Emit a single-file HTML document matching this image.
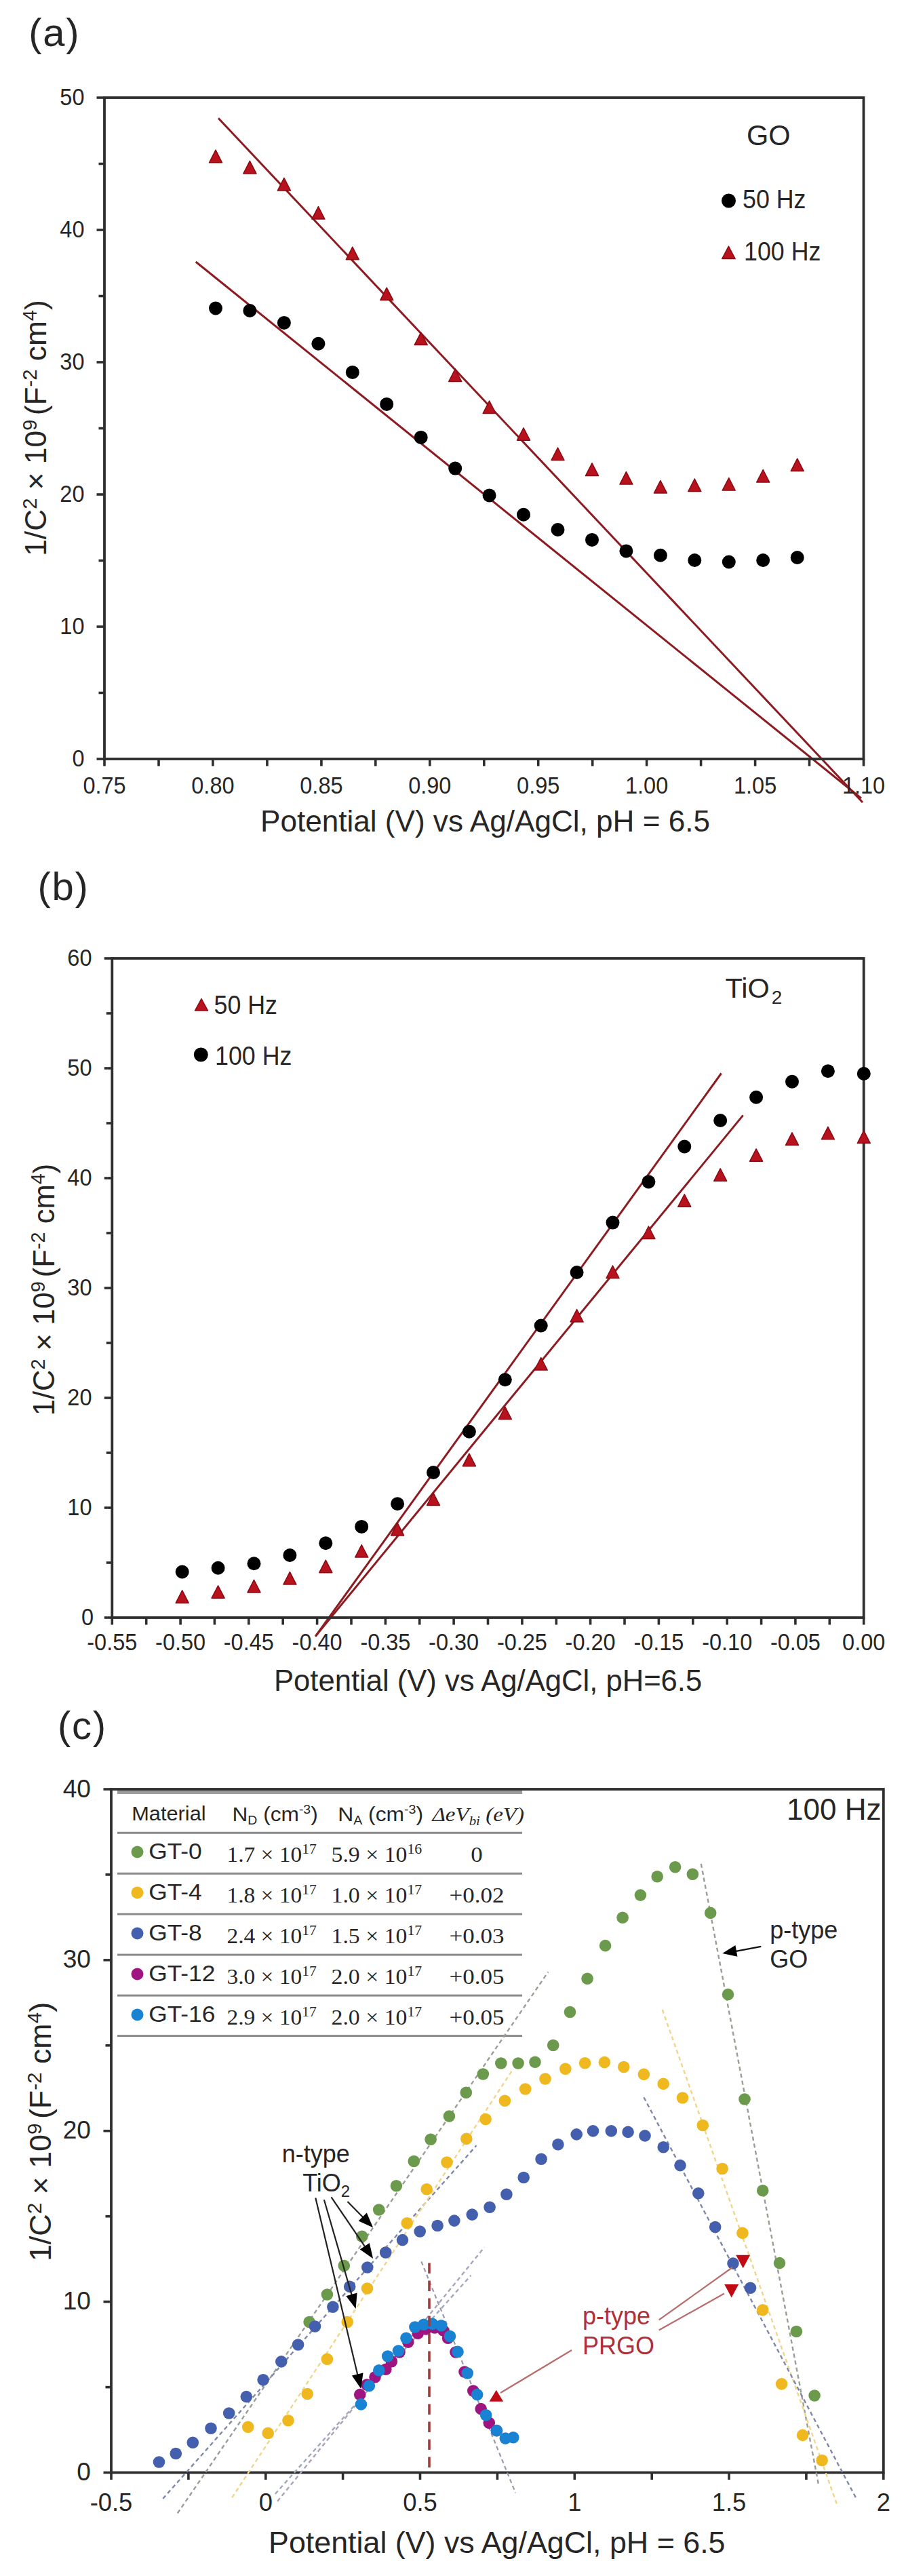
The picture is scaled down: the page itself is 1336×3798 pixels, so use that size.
<!DOCTYPE html>
<html><head><meta charset="utf-8"><style>
html,body{margin:0;padding:0;background:#fff;}
svg{display:block;}
</style></head><body>
<svg width="1336" height="3798" viewBox="0 0 1336 3798">
<rect width="1336" height="3798" fill="#fff"/>
<line x1="322.0" y1="174.3" x2="1272.0" y2="1183.0" stroke="#8c1c22" stroke-width="3" />
<line x1="288.7" y1="386.0" x2="1270.0" y2="1177.0" stroke="#8c1c22" stroke-width="3" />
<rect x="154" y="144" width="1119.5" height="975" fill="none" stroke="#2e2e2e" stroke-width="3.8"/>
<line x1="142.5" y1="1119.0" x2="154.0" y2="1119.0" stroke="#2e2e2e" stroke-width="3.6" />
<text transform="translate(124.5 1130.0) scale(1.0 1.06)" font-size="32.5" text-anchor="end" fill="#262626" font-family="'Liberation Sans', sans-serif" >0</text>
<line x1="145.5" y1="1021.5" x2="154.0" y2="1021.5" stroke="#2e2e2e" stroke-width="3.6" />
<line x1="142.5" y1="924.0" x2="154.0" y2="924.0" stroke="#2e2e2e" stroke-width="3.6" />
<text transform="translate(124.5 935.0) scale(1.0 1.06)" font-size="32.5" text-anchor="end" fill="#262626" font-family="'Liberation Sans', sans-serif" >10</text>
<line x1="145.5" y1="826.5" x2="154.0" y2="826.5" stroke="#2e2e2e" stroke-width="3.6" />
<line x1="142.5" y1="729.0" x2="154.0" y2="729.0" stroke="#2e2e2e" stroke-width="3.6" />
<text transform="translate(124.5 740.0) scale(1.0 1.06)" font-size="32.5" text-anchor="end" fill="#262626" font-family="'Liberation Sans', sans-serif" >20</text>
<line x1="145.5" y1="631.5" x2="154.0" y2="631.5" stroke="#2e2e2e" stroke-width="3.6" />
<line x1="142.5" y1="534.0" x2="154.0" y2="534.0" stroke="#2e2e2e" stroke-width="3.6" />
<text transform="translate(124.5 545.0) scale(1.0 1.06)" font-size="32.5" text-anchor="end" fill="#262626" font-family="'Liberation Sans', sans-serif" >30</text>
<line x1="145.5" y1="436.5" x2="154.0" y2="436.5" stroke="#2e2e2e" stroke-width="3.6" />
<line x1="142.5" y1="339.0" x2="154.0" y2="339.0" stroke="#2e2e2e" stroke-width="3.6" />
<text transform="translate(124.5 350.0) scale(1.0 1.06)" font-size="32.5" text-anchor="end" fill="#262626" font-family="'Liberation Sans', sans-serif" >40</text>
<line x1="145.5" y1="241.5" x2="154.0" y2="241.5" stroke="#2e2e2e" stroke-width="3.6" />
<line x1="142.5" y1="144.0" x2="154.0" y2="144.0" stroke="#2e2e2e" stroke-width="3.6" />
<text transform="translate(124.5 155.0) scale(1.0 1.06)" font-size="32.5" text-anchor="end" fill="#262626" font-family="'Liberation Sans', sans-serif" >50</text>
<line x1="154.0" y1="1119.0" x2="154.0" y2="1129.5" stroke="#2e2e2e" stroke-width="3.6" />
<text transform="translate(154.0 1170.0) scale(1.0 1.06)" font-size="32.5" text-anchor="middle" fill="#262626" font-family="'Liberation Sans', sans-serif" >0.75</text>
<line x1="234.0" y1="1119.0" x2="234.0" y2="1129.5" stroke="#2e2e2e" stroke-width="3.6" />
<line x1="313.9" y1="1119.0" x2="313.9" y2="1129.5" stroke="#2e2e2e" stroke-width="3.6" />
<text transform="translate(313.9 1170.0) scale(1.0 1.06)" font-size="32.5" text-anchor="middle" fill="#262626" font-family="'Liberation Sans', sans-serif" >0.80</text>
<line x1="393.9" y1="1119.0" x2="393.9" y2="1129.5" stroke="#2e2e2e" stroke-width="3.6" />
<line x1="473.9" y1="1119.0" x2="473.9" y2="1129.5" stroke="#2e2e2e" stroke-width="3.6" />
<text transform="translate(473.9 1170.0) scale(1.0 1.06)" font-size="32.5" text-anchor="middle" fill="#262626" font-family="'Liberation Sans', sans-serif" >0.85</text>
<line x1="553.8" y1="1119.0" x2="553.8" y2="1129.5" stroke="#2e2e2e" stroke-width="3.6" />
<line x1="633.8" y1="1119.0" x2="633.8" y2="1129.5" stroke="#2e2e2e" stroke-width="3.6" />
<text transform="translate(633.8 1170.0) scale(1.0 1.06)" font-size="32.5" text-anchor="middle" fill="#262626" font-family="'Liberation Sans', sans-serif" >0.90</text>
<line x1="713.8" y1="1119.0" x2="713.8" y2="1129.5" stroke="#2e2e2e" stroke-width="3.6" />
<line x1="793.7" y1="1119.0" x2="793.7" y2="1129.5" stroke="#2e2e2e" stroke-width="3.6" />
<text transform="translate(793.7 1170.0) scale(1.0 1.06)" font-size="32.5" text-anchor="middle" fill="#262626" font-family="'Liberation Sans', sans-serif" >0.95</text>
<line x1="873.7" y1="1119.0" x2="873.7" y2="1129.5" stroke="#2e2e2e" stroke-width="3.6" />
<line x1="953.6" y1="1119.0" x2="953.6" y2="1129.5" stroke="#2e2e2e" stroke-width="3.6" />
<text transform="translate(953.6 1170.0) scale(1.0 1.06)" font-size="32.5" text-anchor="middle" fill="#262626" font-family="'Liberation Sans', sans-serif" >1.00</text>
<line x1="1033.6" y1="1119.0" x2="1033.6" y2="1129.5" stroke="#2e2e2e" stroke-width="3.6" />
<line x1="1113.6" y1="1119.0" x2="1113.6" y2="1129.5" stroke="#2e2e2e" stroke-width="3.6" />
<text transform="translate(1113.6 1170.0) scale(1.0 1.06)" font-size="32.5" text-anchor="middle" fill="#262626" font-family="'Liberation Sans', sans-serif" >1.05</text>
<line x1="1193.5" y1="1119.0" x2="1193.5" y2="1129.5" stroke="#2e2e2e" stroke-width="3.6" />
<line x1="1273.5" y1="1119.0" x2="1273.5" y2="1129.5" stroke="#2e2e2e" stroke-width="3.6" />
<text transform="translate(1273.5 1170.0) scale(1.0 1.06)" font-size="32.5" text-anchor="middle" fill="#262626" font-family="'Liberation Sans', sans-serif" >1.10</text>
<text x="384.0" y="1226.2" font-size="44.1" text-anchor="start" fill="#262626" font-family="'Liberation Sans', sans-serif" >Potential (V) vs Ag/AgCl, pH = 6.5</text>
<text x="67.7" y="631.0" font-size="44.3" text-anchor="middle" fill="#262626" font-family="'Liberation Sans', sans-serif" transform="rotate(-90 67.7 631.0)">1/C<tspan font-size="29.2" dy="-13.7">2</tspan><tspan dy="13.7"> × 10</tspan><tspan font-size="29.2" dy="-13.7">9</tspan><tspan dy="13.7" dx="-6"> (F</tspan><tspan font-size="29.2" dy="-13.7">-2</tspan><tspan dy="13.7"> cm</tspan><tspan font-size="29.2" dy="-13.7">4</tspan><tspan dy="13.7">)</tspan></text>
<circle cx="318.0" cy="454.5" r="10" fill="#000" />
<circle cx="368.4" cy="458.0" r="10" fill="#000" />
<circle cx="418.9" cy="475.9" r="10" fill="#000" />
<circle cx="469.4" cy="506.7" r="10" fill="#000" />
<circle cx="519.8" cy="548.9" r="10" fill="#000" />
<circle cx="570.2" cy="595.9" r="10" fill="#000" />
<circle cx="620.7" cy="644.9" r="10" fill="#000" />
<circle cx="671.2" cy="690.6" r="10" fill="#000" />
<circle cx="721.6" cy="730.4" r="10" fill="#000" />
<circle cx="772.0" cy="758.7" r="10" fill="#000" />
<circle cx="822.5" cy="781.0" r="10" fill="#000" />
<circle cx="873.0" cy="795.9" r="10" fill="#000" />
<circle cx="923.4" cy="812.4" r="10" fill="#000" />
<circle cx="973.9" cy="818.7" r="10" fill="#000" />
<circle cx="1024.3" cy="826.0" r="10" fill="#000" />
<circle cx="1074.8" cy="828.5" r="10" fill="#000" />
<circle cx="1125.2" cy="826.0" r="10" fill="#000" />
<circle cx="1175.7" cy="822.0" r="10" fill="#000" />
<polygon points="318.0,221.2 327.5,239.8 308.5,239.8" fill="#b8121e" stroke="#8a0a12" stroke-width="1.5" stroke-linejoin="round"/>
<polygon points="368.4,237.4 377.9,255.9 358.9,255.9" fill="#b8121e" stroke="#8a0a12" stroke-width="1.5" stroke-linejoin="round"/>
<polygon points="418.9,262.4 428.4,280.9 409.4,280.9" fill="#b8121e" stroke="#8a0a12" stroke-width="1.5" stroke-linejoin="round"/>
<polygon points="469.4,304.6 478.9,323.1 459.9,323.1" fill="#b8121e" stroke="#8a0a12" stroke-width="1.5" stroke-linejoin="round"/>
<polygon points="519.8,364.2 529.3,382.8 510.3,382.8" fill="#b8121e" stroke="#8a0a12" stroke-width="1.5" stroke-linejoin="round"/>
<polygon points="570.2,424.1 579.8,442.6 560.8,442.6" fill="#b8121e" stroke="#8a0a12" stroke-width="1.5" stroke-linejoin="round"/>
<polygon points="620.7,490.1 630.2,508.6 611.2,508.6" fill="#b8121e" stroke="#8a0a12" stroke-width="1.5" stroke-linejoin="round"/>
<polygon points="671.2,544.0 680.7,562.5 661.7,562.5" fill="#b8121e" stroke="#8a0a12" stroke-width="1.5" stroke-linejoin="round"/>
<polygon points="721.6,591.0 731.1,609.5 712.1,609.5" fill="#b8121e" stroke="#8a0a12" stroke-width="1.5" stroke-linejoin="round"/>
<polygon points="772.0,630.8 781.5,649.2 762.5,649.2" fill="#b8121e" stroke="#8a0a12" stroke-width="1.5" stroke-linejoin="round"/>
<polygon points="822.5,660.0 832.0,678.5 813.0,678.5" fill="#b8121e" stroke="#8a0a12" stroke-width="1.5" stroke-linejoin="round"/>
<polygon points="873.0,682.9 882.5,701.4 863.5,701.4" fill="#b8121e" stroke="#8a0a12" stroke-width="1.5" stroke-linejoin="round"/>
<polygon points="923.4,695.6 932.9,714.1 913.9,714.1" fill="#b8121e" stroke="#8a0a12" stroke-width="1.5" stroke-linejoin="round"/>
<polygon points="973.9,708.5 983.4,727.0 964.4,727.0" fill="#b8121e" stroke="#8a0a12" stroke-width="1.5" stroke-linejoin="round"/>
<polygon points="1024.3,706.0 1033.8,724.5 1014.8,724.5" fill="#b8121e" stroke="#8a0a12" stroke-width="1.5" stroke-linejoin="round"/>
<polygon points="1074.8,704.5 1084.2,723.0 1065.2,723.0" fill="#b8121e" stroke="#8a0a12" stroke-width="1.5" stroke-linejoin="round"/>
<polygon points="1125.2,692.5 1134.7,711.0 1115.7,711.0" fill="#b8121e" stroke="#8a0a12" stroke-width="1.5" stroke-linejoin="round"/>
<polygon points="1175.7,676.1 1185.2,694.6 1166.2,694.6" fill="#b8121e" stroke="#8a0a12" stroke-width="1.5" stroke-linejoin="round"/>
<text transform="translate(1101.0 214.0) scale(1.0 1.03)" font-size="41.5" text-anchor="start" fill="#262626" font-family="'Liberation Sans', sans-serif" >GO</text>
<circle cx="1074.5" cy="296.0" r="10.5" fill="#000" />
<text transform="translate(1095.0 307.3) scale(1.0 1.06)" font-size="35.8" text-anchor="start" fill="#262626" font-family="'Liberation Sans', sans-serif" >50 Hz</text>
<polygon points="1074.4,363.1 1084.1,381.6 1064.7,381.6" fill="#b8121e" stroke="#8a0a12" stroke-width="1.5" stroke-linejoin="round"/>
<text transform="translate(1097.0 384.0) scale(1.0 1.06)" font-size="35.8" text-anchor="start" fill="#262626" font-family="'Liberation Sans', sans-serif" >100 Hz</text>
<text x="42.3" y="67.7" font-size="58" text-anchor="start" fill="#262626" font-family="'Liberation Sans', sans-serif" letter-spacing="1.7">(a)</text>
<line x1="465.1" y1="2412.6" x2="1063.6" y2="1582.5" stroke="#8c1c22" stroke-width="3" />
<line x1="465.1" y1="2412.6" x2="1095.7" y2="1644.4" stroke="#8c1c22" stroke-width="3" />
<rect x="165.3" y="1413" width="1108.4" height="972" fill="none" stroke="#2e2e2e" stroke-width="3.8"/>
<line x1="153.8" y1="2385.0" x2="165.3" y2="2385.0" stroke="#2e2e2e" stroke-width="3.6" />
<text transform="translate(138.0 2396.0) scale(1.0 1.06)" font-size="32.5" text-anchor="end" fill="#262626" font-family="'Liberation Sans', sans-serif" >0</text>
<line x1="156.8" y1="2304.0" x2="165.3" y2="2304.0" stroke="#2e2e2e" stroke-width="3.6" />
<line x1="153.8" y1="2223.0" x2="165.3" y2="2223.0" stroke="#2e2e2e" stroke-width="3.6" />
<text transform="translate(135.5 2234.0) scale(1.0 1.06)" font-size="32.5" text-anchor="end" fill="#262626" font-family="'Liberation Sans', sans-serif" >10</text>
<line x1="156.8" y1="2142.0" x2="165.3" y2="2142.0" stroke="#2e2e2e" stroke-width="3.6" />
<line x1="153.8" y1="2061.0" x2="165.3" y2="2061.0" stroke="#2e2e2e" stroke-width="3.6" />
<text transform="translate(135.5 2072.0) scale(1.0 1.06)" font-size="32.5" text-anchor="end" fill="#262626" font-family="'Liberation Sans', sans-serif" >20</text>
<line x1="156.8" y1="1980.0" x2="165.3" y2="1980.0" stroke="#2e2e2e" stroke-width="3.6" />
<line x1="153.8" y1="1899.0" x2="165.3" y2="1899.0" stroke="#2e2e2e" stroke-width="3.6" />
<text transform="translate(135.5 1910.0) scale(1.0 1.06)" font-size="32.5" text-anchor="end" fill="#262626" font-family="'Liberation Sans', sans-serif" >30</text>
<line x1="156.8" y1="1818.0" x2="165.3" y2="1818.0" stroke="#2e2e2e" stroke-width="3.6" />
<line x1="153.8" y1="1737.0" x2="165.3" y2="1737.0" stroke="#2e2e2e" stroke-width="3.6" />
<text transform="translate(135.5 1748.0) scale(1.0 1.06)" font-size="32.5" text-anchor="end" fill="#262626" font-family="'Liberation Sans', sans-serif" >40</text>
<line x1="156.8" y1="1656.0" x2="165.3" y2="1656.0" stroke="#2e2e2e" stroke-width="3.6" />
<line x1="153.8" y1="1575.0" x2="165.3" y2="1575.0" stroke="#2e2e2e" stroke-width="3.6" />
<text transform="translate(135.5 1586.0) scale(1.0 1.06)" font-size="32.5" text-anchor="end" fill="#262626" font-family="'Liberation Sans', sans-serif" >50</text>
<line x1="156.8" y1="1494.0" x2="165.3" y2="1494.0" stroke="#2e2e2e" stroke-width="3.6" />
<line x1="153.8" y1="1413.0" x2="165.3" y2="1413.0" stroke="#2e2e2e" stroke-width="3.6" />
<text transform="translate(135.5 1424.0) scale(1.0 1.06)" font-size="32.5" text-anchor="end" fill="#262626" font-family="'Liberation Sans', sans-serif" >60</text>
<line x1="165.3" y1="2385.0" x2="165.3" y2="2395.5" stroke="#2e2e2e" stroke-width="3.6" />
<text transform="translate(165.3 2433.0) scale(1.0 1.06)" font-size="32.5" text-anchor="middle" fill="#262626" font-family="'Liberation Sans', sans-serif" >-0.55</text>
<line x1="215.7" y1="2385.0" x2="215.7" y2="2395.5" stroke="#2e2e2e" stroke-width="3.6" />
<line x1="266.1" y1="2385.0" x2="266.1" y2="2395.5" stroke="#2e2e2e" stroke-width="3.6" />
<text transform="translate(266.1 2433.0) scale(1.0 1.06)" font-size="32.5" text-anchor="middle" fill="#262626" font-family="'Liberation Sans', sans-serif" >-0.50</text>
<line x1="316.4" y1="2385.0" x2="316.4" y2="2395.5" stroke="#2e2e2e" stroke-width="3.6" />
<line x1="366.8" y1="2385.0" x2="366.8" y2="2395.5" stroke="#2e2e2e" stroke-width="3.6" />
<text transform="translate(366.8 2433.0) scale(1.0 1.06)" font-size="32.5" text-anchor="middle" fill="#262626" font-family="'Liberation Sans', sans-serif" >-0.45</text>
<line x1="417.2" y1="2385.0" x2="417.2" y2="2395.5" stroke="#2e2e2e" stroke-width="3.6" />
<line x1="467.6" y1="2385.0" x2="467.6" y2="2395.5" stroke="#2e2e2e" stroke-width="3.6" />
<text transform="translate(467.6 2433.0) scale(1.0 1.06)" font-size="32.5" text-anchor="middle" fill="#262626" font-family="'Liberation Sans', sans-serif" >-0.40</text>
<line x1="518.0" y1="2385.0" x2="518.0" y2="2395.5" stroke="#2e2e2e" stroke-width="3.6" />
<line x1="568.4" y1="2385.0" x2="568.4" y2="2395.5" stroke="#2e2e2e" stroke-width="3.6" />
<text transform="translate(568.4 2433.0) scale(1.0 1.06)" font-size="32.5" text-anchor="middle" fill="#262626" font-family="'Liberation Sans', sans-serif" >-0.35</text>
<line x1="618.7" y1="2385.0" x2="618.7" y2="2395.5" stroke="#2e2e2e" stroke-width="3.6" />
<line x1="669.1" y1="2385.0" x2="669.1" y2="2395.5" stroke="#2e2e2e" stroke-width="3.6" />
<text transform="translate(669.1 2433.0) scale(1.0 1.06)" font-size="32.5" text-anchor="middle" fill="#262626" font-family="'Liberation Sans', sans-serif" >-0.30</text>
<line x1="719.5" y1="2385.0" x2="719.5" y2="2395.5" stroke="#2e2e2e" stroke-width="3.6" />
<line x1="769.9" y1="2385.0" x2="769.9" y2="2395.5" stroke="#2e2e2e" stroke-width="3.6" />
<text transform="translate(769.9 2433.0) scale(1.0 1.06)" font-size="32.5" text-anchor="middle" fill="#262626" font-family="'Liberation Sans', sans-serif" >-0.25</text>
<line x1="820.3" y1="2385.0" x2="820.3" y2="2395.5" stroke="#2e2e2e" stroke-width="3.6" />
<line x1="870.6" y1="2385.0" x2="870.6" y2="2395.5" stroke="#2e2e2e" stroke-width="3.6" />
<text transform="translate(870.6 2433.0) scale(1.0 1.06)" font-size="32.5" text-anchor="middle" fill="#262626" font-family="'Liberation Sans', sans-serif" >-0.20</text>
<line x1="921.0" y1="2385.0" x2="921.0" y2="2395.5" stroke="#2e2e2e" stroke-width="3.6" />
<line x1="971.4" y1="2385.0" x2="971.4" y2="2395.5" stroke="#2e2e2e" stroke-width="3.6" />
<text transform="translate(971.4 2433.0) scale(1.0 1.06)" font-size="32.5" text-anchor="middle" fill="#262626" font-family="'Liberation Sans', sans-serif" >-0.15</text>
<line x1="1021.8" y1="2385.0" x2="1021.8" y2="2395.5" stroke="#2e2e2e" stroke-width="3.6" />
<line x1="1072.2" y1="2385.0" x2="1072.2" y2="2395.5" stroke="#2e2e2e" stroke-width="3.6" />
<text transform="translate(1072.2 2433.0) scale(1.0 1.06)" font-size="32.5" text-anchor="middle" fill="#262626" font-family="'Liberation Sans', sans-serif" >-0.10</text>
<line x1="1122.6" y1="2385.0" x2="1122.6" y2="2395.5" stroke="#2e2e2e" stroke-width="3.6" />
<line x1="1172.9" y1="2385.0" x2="1172.9" y2="2395.5" stroke="#2e2e2e" stroke-width="3.6" />
<text transform="translate(1172.9 2433.0) scale(1.0 1.06)" font-size="32.5" text-anchor="middle" fill="#262626" font-family="'Liberation Sans', sans-serif" >-0.05</text>
<line x1="1223.3" y1="2385.0" x2="1223.3" y2="2395.5" stroke="#2e2e2e" stroke-width="3.6" />
<line x1="1273.7" y1="2385.0" x2="1273.7" y2="2395.5" stroke="#2e2e2e" stroke-width="3.6" />
<text transform="translate(1273.7 2433.0) scale(1.0 1.06)" font-size="32.5" text-anchor="middle" fill="#262626" font-family="'Liberation Sans', sans-serif" >0.00</text>
<text x="404.0" y="2493.4" font-size="43.6" text-anchor="start" fill="#262626" font-family="'Liberation Sans', sans-serif" >Potential (V) vs Ag/AgCl, pH=6.5</text>
<text x="79.6" y="1901.5" font-size="43.6" text-anchor="middle" fill="#262626" font-family="'Liberation Sans', sans-serif" transform="rotate(-90 79.6 1901.5)">1/C<tspan font-size="28.8" dy="-13.5">2</tspan><tspan dy="13.5"> × 10</tspan><tspan font-size="28.8" dy="-13.5">9</tspan><tspan dy="13.5" dx="-6"> (F</tspan><tspan font-size="28.8" dy="-13.5">-2</tspan><tspan dy="13.5"> cm</tspan><tspan font-size="28.8" dy="-13.5">4</tspan><tspan dy="13.5">)</tspan></text>
<polygon points="268.7,2344.9 278.2,2363.4 259.2,2363.4" fill="#b8121e" stroke="#8a0a12" stroke-width="1.5" stroke-linejoin="round"/>
<polygon points="321.6,2337.8 331.1,2356.2 312.1,2356.2" fill="#b8121e" stroke="#8a0a12" stroke-width="1.5" stroke-linejoin="round"/>
<polygon points="374.5,2329.4 384.0,2347.9 365.0,2347.9" fill="#b8121e" stroke="#8a0a12" stroke-width="1.5" stroke-linejoin="round"/>
<polygon points="427.4,2317.6 436.9,2336.1 417.9,2336.1" fill="#b8121e" stroke="#8a0a12" stroke-width="1.5" stroke-linejoin="round"/>
<polygon points="480.3,2300.2 489.8,2318.7 470.8,2318.7" fill="#b8121e" stroke="#8a0a12" stroke-width="1.5" stroke-linejoin="round"/>
<polygon points="533.2,2277.6 542.7,2296.1 523.7,2296.1" fill="#b8121e" stroke="#8a0a12" stroke-width="1.5" stroke-linejoin="round"/>
<polygon points="586.1,2245.4 595.6,2263.9 576.6,2263.9" fill="#b8121e" stroke="#8a0a12" stroke-width="1.5" stroke-linejoin="round"/>
<polygon points="639.0,2201.1 648.5,2219.6 629.5,2219.6" fill="#b8121e" stroke="#8a0a12" stroke-width="1.5" stroke-linejoin="round"/>
<polygon points="691.9,2143.2 701.4,2161.7 682.4,2161.7" fill="#b8121e" stroke="#8a0a12" stroke-width="1.5" stroke-linejoin="round"/>
<polygon points="744.8,2074.1 754.3,2092.6 735.3,2092.6" fill="#b8121e" stroke="#8a0a12" stroke-width="1.5" stroke-linejoin="round"/>
<polygon points="797.7,2001.5 807.2,2020.0 788.2,2020.0" fill="#b8121e" stroke="#8a0a12" stroke-width="1.5" stroke-linejoin="round"/>
<polygon points="850.6,1930.5 860.1,1949.0 841.1,1949.0" fill="#b8121e" stroke="#8a0a12" stroke-width="1.5" stroke-linejoin="round"/>
<polygon points="903.5,1866.0 913.0,1884.5 894.0,1884.5" fill="#b8121e" stroke="#8a0a12" stroke-width="1.5" stroke-linejoin="round"/>
<polygon points="956.4,1808.0 965.9,1826.5 946.9,1826.5" fill="#b8121e" stroke="#8a0a12" stroke-width="1.5" stroke-linejoin="round"/>
<polygon points="1009.3,1760.8 1018.8,1779.2 999.8,1779.2" fill="#b8121e" stroke="#8a0a12" stroke-width="1.5" stroke-linejoin="round"/>
<polygon points="1062.2,1722.8 1071.7,1741.3 1052.7,1741.3" fill="#b8121e" stroke="#8a0a12" stroke-width="1.5" stroke-linejoin="round"/>
<polygon points="1115.1,1693.8 1124.6,1712.2 1105.6,1712.2" fill="#b8121e" stroke="#8a0a12" stroke-width="1.5" stroke-linejoin="round"/>
<polygon points="1168.0,1669.8 1177.5,1688.3 1158.5,1688.3" fill="#b8121e" stroke="#8a0a12" stroke-width="1.5" stroke-linejoin="round"/>
<polygon points="1220.9,1661.3 1230.4,1679.8 1211.4,1679.8" fill="#b8121e" stroke="#8a0a12" stroke-width="1.5" stroke-linejoin="round"/>
<polygon points="1273.8,1667.0 1283.3,1685.5 1264.3,1685.5" fill="#b8121e" stroke="#8a0a12" stroke-width="1.5" stroke-linejoin="round"/>
<circle cx="268.7" cy="2317.5" r="10" fill="#000" />
<circle cx="321.6" cy="2311.8" r="10" fill="#000" />
<circle cx="374.5" cy="2305.2" r="10" fill="#000" />
<circle cx="427.4" cy="2293.0" r="10" fill="#000" />
<circle cx="480.3" cy="2275.2" r="10" fill="#000" />
<circle cx="533.2" cy="2250.9" r="10" fill="#000" />
<circle cx="586.1" cy="2217.2" r="10" fill="#000" />
<circle cx="639.0" cy="2171.0" r="10" fill="#000" />
<circle cx="691.9" cy="2110.8" r="10" fill="#000" />
<circle cx="744.8" cy="2034.3" r="10" fill="#000" />
<circle cx="797.7" cy="1954.5" r="10" fill="#000" />
<circle cx="850.6" cy="1876.0" r="10" fill="#000" />
<circle cx="903.5" cy="1802.6" r="10" fill="#000" />
<circle cx="956.4" cy="1742.4" r="10" fill="#000" />
<circle cx="1009.3" cy="1690.5" r="10" fill="#000" />
<circle cx="1062.2" cy="1652.0" r="10" fill="#000" />
<circle cx="1115.1" cy="1617.7" r="10" fill="#000" />
<circle cx="1168.0" cy="1594.8" r="10" fill="#000" />
<circle cx="1220.9" cy="1579.3" r="10" fill="#000" />
<circle cx="1273.8" cy="1583.0" r="10" fill="#000" />
<text x="1069.5" y="1471.0" font-size="41.5" text-anchor="start" fill="#262626" font-family="'Liberation Sans', sans-serif" >TiO<tspan font-size="28" dx="3" dy="9">2</tspan></text>
<polygon points="297.0,1472.5 306.5,1490.0 287.5,1490.0" fill="#b8121e" stroke="#8a0a12" stroke-width="1.5" stroke-linejoin="round"/>
<text transform="translate(315.5 1494.8) scale(1.0 1.06)" font-size="35.8" text-anchor="start" fill="#262626" font-family="'Liberation Sans', sans-serif" >50 Hz</text>
<circle cx="296.3" cy="1555.0" r="10.5" fill="#000" />
<text transform="translate(317.0 1570.0) scale(1.0 1.06)" font-size="35.8" text-anchor="start" fill="#262626" font-family="'Liberation Sans', sans-serif" >100 Hz</text>
<text x="55.6" y="1326.8" font-size="58" text-anchor="start" fill="#262626" font-family="'Liberation Sans', sans-serif" letter-spacing="1.7">(b)</text>
<rect x="173" y="2639.5" width="597" height="5.5" fill="#9a9a9a"/>
<rect x="173" y="2700.8" width="597" height="3" fill="#8a8a8a"/>
<rect x="173" y="2760.8" width="597" height="3" fill="#8a8a8a"/>
<rect x="173" y="2820.7" width="597" height="3" fill="#8a8a8a"/>
<rect x="173" y="2880.6" width="597" height="3" fill="#8a8a8a"/>
<rect x="173" y="2940.6" width="597" height="3" fill="#8a8a8a"/>
<rect x="173" y="3000.1" width="597" height="3" fill="#8a8a8a"/>
<text transform="translate(194.2 2683.5) scale(1.05 1.0)" font-size="29.3" text-anchor="start" fill="#262626" font-family="'Liberation Sans', sans-serif" >Material</text>
<text transform="translate(342.5 2684.7) scale(1.08 1.0)" font-size="29.3" text-anchor="start" fill="#262626" font-family="'Liberation Sans', sans-serif" >N<tspan font-size="18" dy="5">D</tspan><tspan dy="-5"> (cm</tspan><tspan font-size="18" dy="-11">-3</tspan><tspan dy="11">)</tspan></text>
<text transform="translate(498.3 2684.7) scale(1.085 1.0)" font-size="29.3" text-anchor="start" fill="#262626" font-family="'Liberation Sans', sans-serif" >N<tspan font-size="18" dy="5">A</tspan><tspan dy="-5"> (cm</tspan><tspan font-size="18" dy="-11">-3</tspan><tspan dy="11">)</tspan></text>
<text transform="translate(637.5 2684.7) scale(1.1 1.0)" font-size="30" text-anchor="start" fill="#262626" font-family="'Liberation Serif', serif" font-style="italic">Δ<tspan>eV</tspan><tspan font-size="19" dy="6">bi</tspan><tspan dy="-6"> (eV)</tspan></text>
<circle cx="202.5" cy="2730.5" r="9" fill="#6b9a4c" />
<text transform="translate(219.2 2741.0) scale(1.04 1.0)" font-size="34" text-anchor="start" fill="#262626" font-family="'Liberation Sans', sans-serif" >GT-0</text>
<text transform="translate(334.4 2744.5) scale(1.08 1.0)" font-size="31" text-anchor="start" fill="#262626" font-family="'Liberation Serif', serif" >1.7 × 10<tspan font-size="20" dy="-12">17</tspan></text>
<text transform="translate(488.5 2744.5) scale(1.09 1.0)" font-size="31" text-anchor="start" fill="#262626" font-family="'Liberation Serif', serif" >5.9 × 10<tspan font-size="20" dy="-12">16</tspan></text>
<text transform="translate(703.0 2744.5) scale(1.13 1.0)" font-size="31" text-anchor="middle" fill="#262626" font-family="'Liberation Serif', serif" >0</text>
<circle cx="202.5" cy="2790.5" r="9" fill="#efb81e" />
<text transform="translate(219.2 2801.0) scale(1.04 1.0)" font-size="34" text-anchor="start" fill="#262626" font-family="'Liberation Sans', sans-serif" >GT-4</text>
<text transform="translate(334.4 2804.5) scale(1.08 1.0)" font-size="31" text-anchor="start" fill="#262626" font-family="'Liberation Serif', serif" >1.8 × 10<tspan font-size="20" dy="-12">17</tspan></text>
<text transform="translate(488.5 2804.5) scale(1.09 1.0)" font-size="31" text-anchor="start" fill="#262626" font-family="'Liberation Serif', serif" >1.0 × 10<tspan font-size="20" dy="-12">17</tspan></text>
<text transform="translate(703.0 2804.5) scale(1.13 1.0)" font-size="31" text-anchor="middle" fill="#262626" font-family="'Liberation Serif', serif" >+0.02</text>
<circle cx="202.5" cy="2850.5" r="9" fill="#445fae" />
<text transform="translate(219.2 2861.0) scale(1.04 1.0)" font-size="34" text-anchor="start" fill="#262626" font-family="'Liberation Sans', sans-serif" >GT-8</text>
<text transform="translate(334.4 2864.5) scale(1.08 1.0)" font-size="31" text-anchor="start" fill="#262626" font-family="'Liberation Serif', serif" >2.4 × 10<tspan font-size="20" dy="-12">17</tspan></text>
<text transform="translate(488.5 2864.5) scale(1.09 1.0)" font-size="31" text-anchor="start" fill="#262626" font-family="'Liberation Serif', serif" >1.5 × 10<tspan font-size="20" dy="-12">17</tspan></text>
<text transform="translate(703.0 2864.5) scale(1.13 1.0)" font-size="31" text-anchor="middle" fill="#262626" font-family="'Liberation Serif', serif" >+0.03</text>
<circle cx="202.5" cy="2910.5" r="9" fill="#a01482" />
<text transform="translate(219.2 2921.0) scale(1.04 1.0)" font-size="34" text-anchor="start" fill="#262626" font-family="'Liberation Sans', sans-serif" >GT-12</text>
<text transform="translate(334.4 2924.5) scale(1.08 1.0)" font-size="31" text-anchor="start" fill="#262626" font-family="'Liberation Serif', serif" >3.0 × 10<tspan font-size="20" dy="-12">17</tspan></text>
<text transform="translate(488.5 2924.5) scale(1.09 1.0)" font-size="31" text-anchor="start" fill="#262626" font-family="'Liberation Serif', serif" >2.0 × 10<tspan font-size="20" dy="-12">17</tspan></text>
<text transform="translate(703.0 2924.5) scale(1.13 1.0)" font-size="31" text-anchor="middle" fill="#262626" font-family="'Liberation Serif', serif" >+0.05</text>
<circle cx="202.5" cy="2970.5" r="9" fill="#1a82d2" />
<text transform="translate(219.2 2981.0) scale(1.04 1.0)" font-size="34" text-anchor="start" fill="#262626" font-family="'Liberation Sans', sans-serif" >GT-16</text>
<text transform="translate(334.4 2984.5) scale(1.08 1.0)" font-size="31" text-anchor="start" fill="#262626" font-family="'Liberation Serif', serif" >2.9 × 10<tspan font-size="20" dy="-12">17</tspan></text>
<text transform="translate(488.5 2984.5) scale(1.09 1.0)" font-size="31" text-anchor="start" fill="#262626" font-family="'Liberation Serif', serif" >2.0 × 10<tspan font-size="20" dy="-12">17</tspan></text>
<text transform="translate(703.0 2984.5) scale(1.13 1.0)" font-size="31" text-anchor="middle" fill="#262626" font-family="'Liberation Serif', serif" >+0.05</text>
<rect x="164" y="2638" width="1138.8" height="1007.5" fill="none" stroke="#2e2e2e" stroke-width="3.8"/>
<line x1="152.5" y1="3645.5" x2="164.0" y2="3645.5" stroke="#2e2e2e" stroke-width="3.6" />
<text transform="translate(134.0 3657.0) scale(1.06 1.04)" font-size="35" text-anchor="end" fill="#262626" font-family="'Liberation Sans', sans-serif" >0</text>
<line x1="155.5" y1="3519.6" x2="164.0" y2="3519.6" stroke="#2e2e2e" stroke-width="3.6" />
<line x1="152.5" y1="3393.6" x2="164.0" y2="3393.6" stroke="#2e2e2e" stroke-width="3.6" />
<text transform="translate(134.0 3405.1) scale(1.06 1.04)" font-size="35" text-anchor="end" fill="#262626" font-family="'Liberation Sans', sans-serif" >10</text>
<line x1="155.5" y1="3267.7" x2="164.0" y2="3267.7" stroke="#2e2e2e" stroke-width="3.6" />
<line x1="152.5" y1="3141.8" x2="164.0" y2="3141.8" stroke="#2e2e2e" stroke-width="3.6" />
<text transform="translate(134.0 3153.2) scale(1.06 1.04)" font-size="35" text-anchor="end" fill="#262626" font-family="'Liberation Sans', sans-serif" >20</text>
<line x1="155.5" y1="3015.8" x2="164.0" y2="3015.8" stroke="#2e2e2e" stroke-width="3.6" />
<line x1="152.5" y1="2889.9" x2="164.0" y2="2889.9" stroke="#2e2e2e" stroke-width="3.6" />
<text transform="translate(134.0 2901.4) scale(1.06 1.04)" font-size="35" text-anchor="end" fill="#262626" font-family="'Liberation Sans', sans-serif" >30</text>
<line x1="155.5" y1="2763.9" x2="164.0" y2="2763.9" stroke="#2e2e2e" stroke-width="3.6" />
<line x1="152.5" y1="2638.0" x2="164.0" y2="2638.0" stroke="#2e2e2e" stroke-width="3.6" />
<text transform="translate(134.0 2649.5) scale(1.06 1.04)" font-size="35" text-anchor="end" fill="#262626" font-family="'Liberation Sans', sans-serif" >40</text>
<line x1="164.0" y1="3645.5" x2="164.0" y2="3656.0" stroke="#2e2e2e" stroke-width="3.6" />
<text transform="translate(164.0 3701.5) scale(1.04 1.06)" font-size="35" text-anchor="middle" fill="#262626" font-family="'Liberation Sans', sans-serif" >-0.5</text>
<line x1="277.9" y1="3645.5" x2="277.9" y2="3656.0" stroke="#2e2e2e" stroke-width="3.6" />
<line x1="391.8" y1="3645.5" x2="391.8" y2="3656.0" stroke="#2e2e2e" stroke-width="3.6" />
<text transform="translate(391.8 3701.5) scale(1.04 1.06)" font-size="35" text-anchor="middle" fill="#262626" font-family="'Liberation Sans', sans-serif" >0</text>
<line x1="505.6" y1="3645.5" x2="505.6" y2="3656.0" stroke="#2e2e2e" stroke-width="3.6" />
<line x1="619.5" y1="3645.5" x2="619.5" y2="3656.0" stroke="#2e2e2e" stroke-width="3.6" />
<text transform="translate(619.5 3701.5) scale(1.04 1.06)" font-size="35" text-anchor="middle" fill="#262626" font-family="'Liberation Sans', sans-serif" >0.5</text>
<line x1="733.4" y1="3645.5" x2="733.4" y2="3656.0" stroke="#2e2e2e" stroke-width="3.6" />
<line x1="847.3" y1="3645.5" x2="847.3" y2="3656.0" stroke="#2e2e2e" stroke-width="3.6" />
<text transform="translate(847.3 3701.5) scale(1.04 1.06)" font-size="35" text-anchor="middle" fill="#262626" font-family="'Liberation Sans', sans-serif" >1</text>
<line x1="961.2" y1="3645.5" x2="961.2" y2="3656.0" stroke="#2e2e2e" stroke-width="3.6" />
<line x1="1075.0" y1="3645.5" x2="1075.0" y2="3656.0" stroke="#2e2e2e" stroke-width="3.6" />
<text transform="translate(1075.0 3701.5) scale(1.04 1.06)" font-size="35" text-anchor="middle" fill="#262626" font-family="'Liberation Sans', sans-serif" >1.5</text>
<line x1="1188.9" y1="3645.5" x2="1188.9" y2="3656.0" stroke="#2e2e2e" stroke-width="3.6" />
<line x1="1302.8" y1="3645.5" x2="1302.8" y2="3656.0" stroke="#2e2e2e" stroke-width="3.6" />
<text transform="translate(1302.8 3701.5) scale(1.04 1.06)" font-size="35" text-anchor="middle" fill="#262626" font-family="'Liberation Sans', sans-serif" >2</text>
<text x="396.0" y="3764.3" font-size="44.8" text-anchor="start" fill="#262626" font-family="'Liberation Sans', sans-serif" >Potential (V) vs Ag/AgCl, pH = 6.5</text>
<text x="74.6" y="3143.0" font-size="44.8" text-anchor="middle" fill="#262626" font-family="'Liberation Sans', sans-serif" transform="rotate(-90 74.6 3143.0)">1/C<tspan font-size="29.6" dy="-13.9">2</tspan><tspan dy="13.9"> × 10</tspan><tspan font-size="29.6" dy="-13.9">9</tspan><tspan dy="13.9" dx="-6"> (F</tspan><tspan font-size="29.6" dy="-13.9">-2</tspan><tspan dy="13.9"> cm</tspan><tspan font-size="29.6" dy="-13.9">4</tspan><tspan dy="13.9">)</tspan></text>
<text x="85.0" y="2564.3" font-size="58" text-anchor="start" fill="#262626" font-family="'Liberation Sans', sans-serif" letter-spacing="1.7">(c)</text>
<line x1="261.8" y1="3705.5" x2="808.3" y2="2907.4" stroke="#9a9e94" stroke-width="2.4" stroke-dasharray="6 4.5"/>
<line x1="240.2" y1="3684.0" x2="702.5" y2="3163.3" stroke="#8088aa" stroke-width="2.4" stroke-dasharray="6 4.5"/>
<line x1="342.2" y1="3682.3" x2="757.0" y2="3050.0" stroke="#f0d68c" stroke-width="2.4" stroke-dasharray="6 4.5"/>
<line x1="409.0" y1="3688.0" x2="714.4" y2="3313.2" stroke="#aca2bc" stroke-width="2.4" stroke-dasharray="6 4.5"/>
<line x1="405.8" y1="3677.0" x2="694.3" y2="3354.9" stroke="#a0a8bc" stroke-width="2.4" stroke-dasharray="6 4.5"/>
<line x1="1033.8" y1="2747.9" x2="1206.8" y2="3662.0" stroke="#9a9e94" stroke-width="2.4" stroke-dasharray="6 4.5"/>
<line x1="976.7" y1="2963.0" x2="1235.4" y2="3696.0" stroke="#f0d68c" stroke-width="2.4" stroke-dasharray="6 4.5"/>
<line x1="949.4" y1="3092.2" x2="1262.8" y2="3684.0" stroke="#8088aa" stroke-width="2.4" stroke-dasharray="6 4.5"/>
<line x1="621.3" y1="3334.4" x2="760.2" y2="3675.5" stroke="#9a9aaa" stroke-width="2.2" stroke-dasharray="6 4.5"/>
<circle cx="456.1" cy="3423.5" r="8.8" fill="#6b9a4c" />
<circle cx="482.4" cy="3383.0" r="8.8" fill="#6b9a4c" />
<circle cx="507.3" cy="3340.5" r="8.8" fill="#6b9a4c" />
<circle cx="533.8" cy="3297.2" r="8.8" fill="#6b9a4c" />
<circle cx="558.7" cy="3258.0" r="8.8" fill="#6b9a4c" />
<circle cx="584.4" cy="3222.7" r="8.8" fill="#6b9a4c" />
<circle cx="610.3" cy="3186.5" r="8.8" fill="#6b9a4c" />
<circle cx="635.1" cy="3154.3" r="8.8" fill="#6b9a4c" />
<circle cx="662.4" cy="3120.1" r="8.8" fill="#6b9a4c" />
<circle cx="687.3" cy="3085.3" r="8.8" fill="#6b9a4c" />
<circle cx="712.3" cy="3058.0" r="8.8" fill="#6b9a4c" />
<circle cx="738.8" cy="3042.0" r="8.8" fill="#6b9a4c" />
<circle cx="764.1" cy="3042.0" r="8.8" fill="#6b9a4c" />
<circle cx="789.0" cy="3040.3" r="8.8" fill="#6b9a4c" />
<circle cx="815.7" cy="3015.5" r="8.8" fill="#6b9a4c" />
<circle cx="840.5" cy="2966.5" r="8.8" fill="#6b9a4c" />
<circle cx="866.1" cy="2917.2" r="8.8" fill="#6b9a4c" />
<circle cx="892.6" cy="2868.6" r="8.8" fill="#6b9a4c" />
<circle cx="918.1" cy="2827.3" r="8.8" fill="#6b9a4c" />
<circle cx="944.4" cy="2794.1" r="8.8" fill="#6b9a4c" />
<circle cx="969.2" cy="2766.7" r="8.8" fill="#6b9a4c" />
<circle cx="995.6" cy="2752.8" r="8.8" fill="#6b9a4c" />
<circle cx="1021.4" cy="2763.3" r="8.8" fill="#6b9a4c" />
<circle cx="1047.7" cy="2820.4" r="8.8" fill="#6b9a4c" />
<circle cx="1073.5" cy="2940.6" r="8.8" fill="#6b9a4c" />
<circle cx="1098.0" cy="3095.0" r="8.8" fill="#6b9a4c" />
<circle cx="1124.7" cy="3229.8" r="8.8" fill="#6b9a4c" />
<circle cx="1149.5" cy="3336.6" r="8.8" fill="#6b9a4c" />
<circle cx="1174.4" cy="3437.5" r="8.8" fill="#6b9a4c" />
<circle cx="1201.1" cy="3532.0" r="8.8" fill="#6b9a4c" />
<circle cx="365.7" cy="3578.3" r="8.8" fill="#efb81e" />
<circle cx="395.2" cy="3587.4" r="8.8" fill="#efb81e" />
<circle cx="425.0" cy="3568.8" r="8.8" fill="#efb81e" />
<circle cx="453.2" cy="3529.5" r="8.8" fill="#efb81e" />
<circle cx="482.4" cy="3478.2" r="8.8" fill="#efb81e" />
<circle cx="512.2" cy="3423.5" r="8.8" fill="#efb81e" />
<circle cx="541.5" cy="3374.0" r="8.8" fill="#efb81e" />
<circle cx="568.7" cy="3321.0" r="8.8" fill="#efb81e" />
<circle cx="600.2" cy="3277.7" r="8.8" fill="#efb81e" />
<circle cx="629.2" cy="3227.8" r="8.8" fill="#efb81e" />
<circle cx="659.0" cy="3188.0" r="8.8" fill="#efb81e" />
<circle cx="687.8" cy="3153.4" r="8.8" fill="#efb81e" />
<circle cx="716.1" cy="3124.5" r="8.8" fill="#efb81e" />
<circle cx="744.4" cy="3097.2" r="8.8" fill="#efb81e" />
<circle cx="774.7" cy="3080.0" r="8.8" fill="#efb81e" />
<circle cx="804.0" cy="3065.0" r="8.8" fill="#efb81e" />
<circle cx="833.8" cy="3050.2" r="8.8" fill="#efb81e" />
<circle cx="862.6" cy="3041.8" r="8.8" fill="#efb81e" />
<circle cx="891.4" cy="3040.6" r="8.8" fill="#efb81e" />
<circle cx="919.8" cy="3047.5" r="8.8" fill="#efb81e" />
<circle cx="949.4" cy="3058.4" r="8.8" fill="#efb81e" />
<circle cx="978.2" cy="3072.4" r="8.8" fill="#efb81e" />
<circle cx="1006.5" cy="3093.0" r="8.8" fill="#efb81e" />
<circle cx="1036.3" cy="3133.5" r="8.8" fill="#efb81e" />
<circle cx="1065.1" cy="3197.5" r="8.8" fill="#efb81e" />
<circle cx="1094.9" cy="3292.4" r="8.8" fill="#efb81e" />
<circle cx="1124.7" cy="3405.9" r="8.8" fill="#efb81e" />
<circle cx="1152.6" cy="3514.9" r="8.8" fill="#efb81e" />
<circle cx="1183.6" cy="3590.4" r="8.8" fill="#efb81e" />
<circle cx="1212.2" cy="3627.5" r="8.8" fill="#efb81e" />
<circle cx="234.5" cy="3630.0" r="8.8" fill="#445fae" />
<circle cx="259.3" cy="3617.5" r="8.8" fill="#445fae" />
<circle cx="284.3" cy="3601.3" r="8.8" fill="#445fae" />
<circle cx="311.0" cy="3580.2" r="8.8" fill="#445fae" />
<circle cx="337.7" cy="3558.0" r="8.8" fill="#445fae" />
<circle cx="363.3" cy="3533.6" r="8.8" fill="#445fae" />
<circle cx="388.1" cy="3508.8" r="8.8" fill="#445fae" />
<circle cx="414.8" cy="3481.9" r="8.8" fill="#445fae" />
<circle cx="439.6" cy="3457.0" r="8.8" fill="#445fae" />
<circle cx="464.5" cy="3430.0" r="8.8" fill="#445fae" />
<circle cx="490.9" cy="3401.2" r="8.8" fill="#445fae" />
<circle cx="515.7" cy="3371.4" r="8.8" fill="#445fae" />
<circle cx="541.8" cy="3343.0" r="8.8" fill="#445fae" />
<circle cx="568.7" cy="3321.0" r="8.8" fill="#445fae" />
<circle cx="593.5" cy="3302.6" r="8.8" fill="#445fae" />
<circle cx="619.2" cy="3290.0" r="8.8" fill="#445fae" />
<circle cx="645.1" cy="3281.5" r="8.8" fill="#445fae" />
<circle cx="669.9" cy="3274.1" r="8.8" fill="#445fae" />
<circle cx="696.2" cy="3265.1" r="8.8" fill="#445fae" />
<circle cx="722.1" cy="3254.2" r="8.8" fill="#445fae" />
<circle cx="746.9" cy="3235.3" r="8.8" fill="#445fae" />
<circle cx="772.2" cy="3210.5" r="8.8" fill="#445fae" />
<circle cx="798.1" cy="3183.2" r="8.8" fill="#445fae" />
<circle cx="822.9" cy="3161.8" r="8.8" fill="#445fae" />
<circle cx="850.2" cy="3146.9" r="8.8" fill="#445fae" />
<circle cx="874.5" cy="3141.9" r="8.8" fill="#445fae" />
<circle cx="901.3" cy="3141.9" r="8.8" fill="#445fae" />
<circle cx="926.1" cy="3143.4" r="8.8" fill="#445fae" />
<circle cx="951.0" cy="3148.9" r="8.8" fill="#445fae" />
<circle cx="978.2" cy="3165.7" r="8.8" fill="#445fae" />
<circle cx="1003.0" cy="3192.6" r="8.8" fill="#445fae" />
<circle cx="1029.8" cy="3233.8" r="8.8" fill="#445fae" />
<circle cx="1054.7" cy="3283.5" r="8.8" fill="#445fae" />
<circle cx="1081.0" cy="3337.1" r="8.8" fill="#445fae" />
<circle cx="1106.5" cy="3373.2" r="8.8" fill="#445fae" />
<circle cx="530.7" cy="3530.6" r="8.8" fill="#a01482" />
<circle cx="541.0" cy="3516.0" r="8.8" fill="#a01482" />
<circle cx="553.0" cy="3504.7" r="8.8" fill="#a01482" />
<circle cx="568.8" cy="3493.3" r="8.8" fill="#a01482" />
<circle cx="577.4" cy="3481.8" r="8.8" fill="#a01482" />
<circle cx="589.0" cy="3468.0" r="8.8" fill="#a01482" />
<circle cx="601.8" cy="3453.1" r="8.8" fill="#a01482" />
<circle cx="616.2" cy="3440.2" r="8.8" fill="#a01482" />
<circle cx="628.0" cy="3434.0" r="8.8" fill="#a01482" />
<circle cx="641.0" cy="3432.0" r="8.8" fill="#a01482" />
<circle cx="653.5" cy="3435.9" r="8.8" fill="#a01482" />
<circle cx="660.6" cy="3447.3" r="8.8" fill="#a01482" />
<circle cx="672.0" cy="3468.0" r="8.8" fill="#a01482" />
<circle cx="685.0" cy="3497.0" r="8.8" fill="#a01482" />
<circle cx="697.8" cy="3525.0" r="8.8" fill="#a01482" />
<circle cx="709.2" cy="3551.6" r="8.8" fill="#a01482" />
<circle cx="721.3" cy="3572.3" r="8.8" fill="#a01482" />
<circle cx="732.4" cy="3583.6" r="8.8" fill="#a01482" />
<circle cx="532.4" cy="3544.9" r="8.8" fill="#1a82d2" />
<circle cx="544.4" cy="3517.6" r="8.8" fill="#1a82d2" />
<circle cx="558.8" cy="3494.7" r="8.8" fill="#1a82d2" />
<circle cx="571.7" cy="3474.0" r="8.8" fill="#1a82d2" />
<circle cx="587.5" cy="3466.0" r="8.8" fill="#1a82d2" />
<circle cx="599.0" cy="3447.3" r="8.8" fill="#1a82d2" />
<circle cx="611.9" cy="3431.0" r="8.8" fill="#1a82d2" />
<circle cx="624.8" cy="3427.3" r="8.8" fill="#1a82d2" />
<circle cx="637.7" cy="3426.4" r="8.8" fill="#1a82d2" />
<circle cx="650.6" cy="3428.7" r="8.8" fill="#1a82d2" />
<circle cx="663.5" cy="3444.5" r="8.8" fill="#1a82d2" />
<circle cx="675.0" cy="3467.4" r="8.8" fill="#1a82d2" />
<circle cx="689.3" cy="3499.0" r="8.8" fill="#1a82d2" />
<circle cx="703.7" cy="3530.6" r="8.8" fill="#1a82d2" />
<circle cx="716.6" cy="3560.7" r="8.8" fill="#1a82d2" />
<circle cx="732.4" cy="3583.6" r="8.8" fill="#1a82d2" />
<circle cx="745.3" cy="3595.1" r="8.8" fill="#1a82d2" />
<circle cx="756.8" cy="3593.7" r="8.8" fill="#1a82d2" />
<line x1="633" y1="3336.5" x2="633" y2="3647" stroke="#a23c3c" stroke-width="3.6" stroke-dasharray="15.5 10.5"/>
<text x="1160.0" y="2682.7" font-size="44" text-anchor="start" fill="#262626" font-family="'Liberation Sans', sans-serif" >100 Hz</text>
<text x="1135.3" y="2858.4" font-size="36" text-anchor="start" fill="#262626" font-family="'Liberation Sans', sans-serif" >p-type</text>
<text x="1135.3" y="2900.5" font-size="36" text-anchor="start" fill="#262626" font-family="'Liberation Sans', sans-serif" >GO</text>
<line x1="1122.3" y1="2869.9" x2="1080.0" y2="2877.8" stroke="#111" stroke-width="2.2" />
<polygon points="1065.2,2880.1 1084.4,2868.0 1087.4,2884.8" fill="#000"/>
<text x="415.8" y="3188.0" font-size="36" text-anchor="start" fill="#262626" font-family="'Liberation Sans', sans-serif" >n-type</text>
<text x="446.2" y="3231.0" font-size="36" text-anchor="start" fill="#262626" font-family="'Liberation Sans', sans-serif" >TiO<tspan font-size="24" dy="8">2</tspan></text>
<line x1="512.5" y1="3245.9" x2="539.6" y2="3273.6" stroke="#222" stroke-width="2.2" />
<polygon points="550.1,3284.3 528.6,3274.5 540.8,3262.6" fill="#000"/>
<line x1="488.5" y1="3239.3" x2="541.7" y2="3317.6" stroke="#222" stroke-width="2.2" />
<polygon points="550.1,3330.0 530.7,3316.6 544.8,3307.0" fill="#000"/>
<line x1="477.9" y1="3243.2" x2="520.4" y2="3389.6" stroke="#222" stroke-width="2.2" />
<polygon points="524.6,3404.0 510.3,3385.2 526.6,3380.5" fill="#000"/>
<line x1="465.3" y1="3240.6" x2="528.8" y2="3507.4" stroke="#222" stroke-width="2.2" />
<polygon points="532.3,3522.0 518.9,3502.6 535.5,3498.6" fill="#000"/>
<text x="859.0" y="3426.6" font-size="36" text-anchor="start" fill="#b0303a" font-family="'Liberation Sans', sans-serif" >p-type</text>
<text x="859.0" y="3470.7" font-size="36" text-anchor="start" fill="#b0303a" font-family="'Liberation Sans', sans-serif" >PRGO</text>
<line x1="971.7" y1="3420.4" x2="1080.0" y2="3343.0" stroke="#b86c6c" stroke-width="2.2" />
<line x1="971.7" y1="3435.5" x2="1068.0" y2="3381.5" stroke="#b86c6c" stroke-width="2.2" />
<line x1="843.0" y1="3465.0" x2="738.0" y2="3528.0" stroke="#b86c6c" stroke-width="2.2" />
<polygon points="1085.2,3324.8 1106.2,3324.8 1095.7,3344.2" fill="#c00a14"/>
<polygon points="1068.2,3367.9 1089.2,3367.9 1078.7,3387.4" fill="#c00a14"/>
<polygon points="731.8,3523.7 742.1,3540.7 721.5,3540.7" fill="#c00a14"/>
</svg></body></html>
